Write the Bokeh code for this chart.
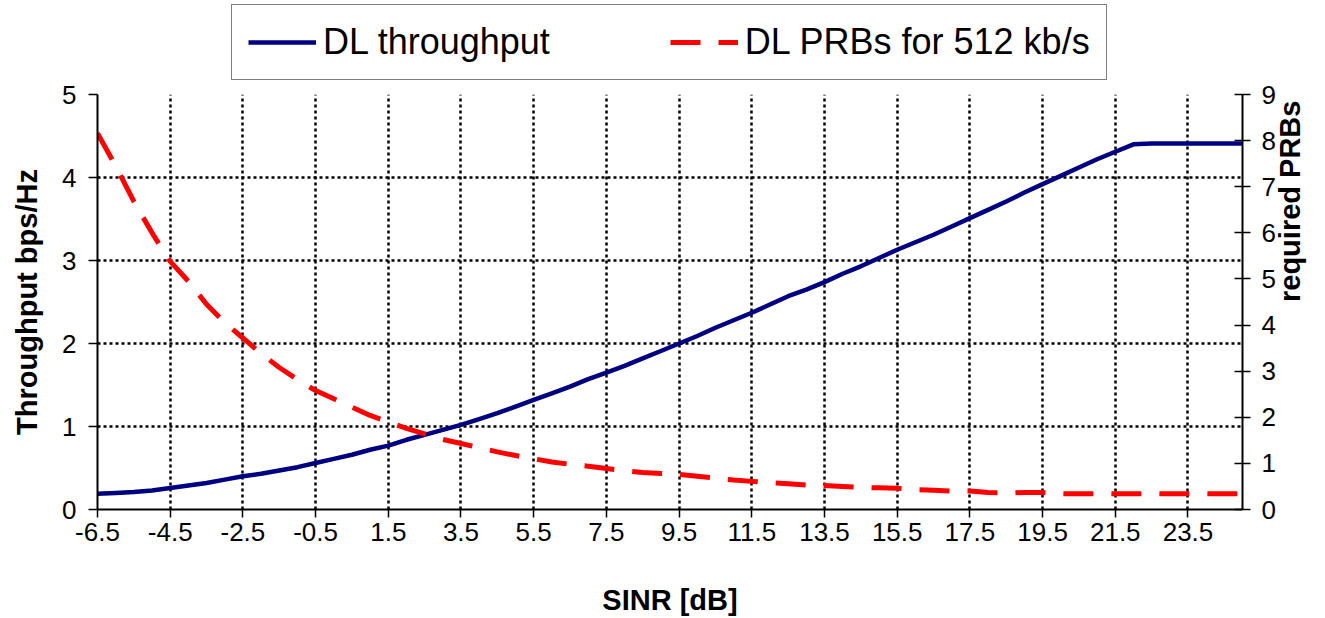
import math
from bokeh.plotting import figure
from bokeh.layouts import column
from bokeh.models import Range1d, LinearAxis, FixedTicker, Legend, LegendItem
from bokeh.embed import file_html
from bokeh.resources import INLINE

# ---- data ----
sinr = [-6.5, -6.0, -5.5, -5.0, -4.5, -4.0, -3.5, -3.0, -2.5, -2.0, -1.5, -1.0,
        -0.5, 0.0, 0.5, 1.0, 1.5, 2.0, 2.5, 3.0, 3.5, 4.0, 4.5, 5.0, 5.5, 6.0,
        6.5, 7.0, 7.5, 8.0, 8.5, 9.0, 9.5, 10.0, 10.5, 11.0, 11.5, 12.0, 12.5,
        13.0, 13.5, 14.0, 14.5, 15.0, 15.5, 16.0, 16.5, 17.0, 17.5, 18.0, 18.5,
        19.0, 19.5, 20.0, 20.5, 21.0, 21.5, 22.0, 22.5, 23.0, 23.5, 24.0, 24.5, 25.0]

dl_throughput = [0.19, 0.20, 0.21, 0.23, 0.26, 0.29, 0.32, 0.36, 0.40, 0.43, 0.47, 0.51,
                 0.56, 0.61, 0.66, 0.72, 0.77, 0.84, 0.90, 0.96, 1.02, 1.09, 1.16, 1.24,
                 1.32, 1.40, 1.48, 1.57, 1.65, 1.73, 1.82, 1.91, 2.00, 2.09, 2.19, 2.28,
                 2.37, 2.47, 2.57, 2.65, 2.74, 2.84, 2.93, 3.03, 3.13, 3.22, 3.31, 3.41,
                 3.51, 3.61, 3.71, 3.82, 3.92, 4.02, 4.12, 4.22, 4.31, 4.40, 4.41, 4.41,
                 4.41, 4.41, 4.41, 4.41]

dl_prbs = [8.16, 7.45, 6.68, 6.00, 5.38, 4.95, 4.45, 4.05, 3.72, 3.38, 3.08, 2.82,
           2.58, 2.40, 2.22, 2.04, 1.90, 1.76, 1.64, 1.52, 1.43, 1.34, 1.25, 1.17,
           1.10, 1.03, 0.98, 0.94, 0.89, 0.84, 0.80, 0.78, 0.76, 0.72, 0.68, 0.64,
           0.61, 0.58, 0.56, 0.53, 0.52, 0.50, 0.48, 0.47, 0.46, 0.43, 0.42, 0.40,
           0.40, 0.37, 0.36, 0.37, 0.37, 0.34, 0.34, 0.34, 0.34, 0.34, 0.34, 0.34,
           0.34, 0.34, 0.34, 0.34]

x_ticks = [-6.5, -4.5, -2.5, -0.5, 1.5, 3.5, 5.5, 7.5, 9.5, 11.5, 13.5, 15.5, 17.5, 19.5, 21.5, 23.5]
x_tick_labels = ["-6.5", "-4.5", "-2.5", "-0.5", "1.5", "3.5", "5.5", "7.5", "9.5",
                 "11.5", "13.5", "15.5", "17.5", "19.5", "21.5", "23.5"]
left_ticks = [0, 1, 2, 3, 4, 5]
right_ticks = [0, 1, 2, 3, 4, 5, 6, 7, 8, 9]

FONT = "Liberation Sans"
TICK_SIZE = "26px"
TITLE_SIZE = "29px"
W = 1325
BL, BR = 97, 83
LEG_H = 80

# ---------- main chart ----------
p = figure(width=W, height=618 - LEG_H, output_backend="svg", toolbar_location=None,
           x_range=Range1d(-6.5, 25), y_range=Range1d(0, 5),
           min_border_left=BL, min_border_right=BR, min_border_top=14, min_border_bottom=108)
p.outline_line_color = None
p.background_fill_color = "white"
p.border_fill_color = "white"

p.extra_y_ranges = {"prb": Range1d(0, 9)}

p.line(sinr, dl_throughput, line_color="#000080", line_width=4.5)
p.line(sinr, dl_prbs, line_color="#FF0000", line_width=5, line_dash="30 18",
       y_range_name="prb")

xa = p.xaxis[0]
xa.ticker = FixedTicker(ticks=x_ticks)
xa.major_label_overrides = {t: s for t, s in zip(x_ticks, x_tick_labels)}
xa.axis_label = "SINR [dB]"
ya = p.yaxis[0]
ya.ticker = FixedTicker(ticks=left_ticks)
ya.axis_label = "Throughput bps/Hz"

ra = LinearAxis(y_range_name="prb", ticker=FixedTicker(ticks=right_ticks),
                axis_label="required PRBs")
p.add_layout(ra, "right")

for ax in (xa, ya, ra):
    ax.axis_line_color = "black"
    ax.axis_line_width = 2
    ax.major_tick_line_color = "black"
    ax.major_tick_line_width = 1.5
    ax.minor_tick_line_color = None
    ax.major_label_text_font = FONT
    ax.major_label_text_font_size = TICK_SIZE
    ax.major_label_text_color = "black"
    ax.axis_label_text_font = FONT
    ax.axis_label_text_font_size = TITLE_SIZE
    ax.axis_label_text_font_style = "bold"
    ax.axis_label_text_color = "black"

xa.major_tick_in = 0
xa.major_tick_out = 8
xa.major_label_standoff = 5
xa.axis_label_standoff = 40

ya.major_tick_in = 0
ya.major_tick_out = 9
ya.major_label_standoff = 12
ya.axis_label_standoff = 16

ra.major_tick_in = 8
ra.major_tick_out = 8
ra.major_label_standoff = 11
ra.axis_label_standoff = 11
ra.axis_label_orientation = math.pi / 2

p.xgrid.ticker = FixedTicker(ticks=x_ticks)
p.ygrid.ticker = FixedTicker(ticks=left_ticks)
for g in (p.xgrid, p.ygrid):
    g.grid_line_color = "black"
    g.grid_line_width = 2.5
    g.grid_line_dash = "3 3"

# ---------- legend strip above the chart ----------
lg = figure(width=W, height=LEG_H, output_backend="svg", toolbar_location=None,
            x_range=Range1d(0, 1), y_range=Range1d(0, 1),
            min_border_left=BL, min_border_right=BR, min_border_top=0, min_border_bottom=0)
lg.outline_line_color = None
lg.axis.visible = False
lg.grid.visible = False
lg.border_fill_color = "white"
lg.background_fill_color = "white"
# keys only: their points lie outside the strip's ranges
k1 = lg.line([-5, -4], [-5, -4], line_color="#000080", line_width=4.5)
k2 = lg.line([-5, -4], [-5, -4], line_color="#FF0000", line_width=5, line_dash="30 18")

legend = Legend(items=[LegendItem(label="DL throughput", renderers=[k1]),
                       LegendItem(label="DL PRBs for 512 kb/s", renderers=[k2])],
                location=(134, 0), orientation="horizontal",
                padding=16, spacing=120, margin=0,
                glyph_width=68, label_standoff=7,
                label_text_font=FONT, label_text_font_size="36px",
                label_text_color="black",
                border_line_color="black", border_line_width=1.5,
                background_fill_color="white", background_fill_alpha=1.0)
lg.add_layout(legend)

layout = column(lg, p, spacing=0)
open("out.html", "w").write(file_html(layout, INLINE))
